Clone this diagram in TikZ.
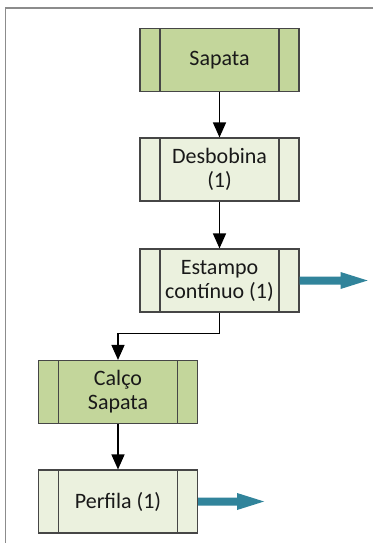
\documentclass[tikz,border=0pt]{standalone}
\usepackage{fontspec}
\setmainfont{Carlito}
\usetikzlibrary{arrows.meta,calc}
\definecolor{procdark}{RGB}{195,214,155}
\definecolor{proclight}{RGB}{235,241,222}
\definecolor{procedge}{RGB}{70,70,70}
\definecolor{outflow}{RGB}{49,132,155}
\definecolor{framegray}{RGB}{140,140,140}
\tikzset{
  procbox/.style={
    rectangle, draw=procedge, line width=1.1pt,
    minimum width=159pt, minimum height=63pt, inner sep=0pt,
    align=center, font=\fontsize{22}{24}\selectfont, text=black!90,
    path picture={
      \draw[procedge, line width=1.1pt]
        ([xshift=20pt]path picture bounding box.north west) --
        ([xshift=20pt]path picture bounding box.south west)
        ([xshift=-20pt]path picture bounding box.north east) --
        ([xshift=-20pt]path picture bounding box.south east);
    }},
  darkproc/.style={procbox, fill=procdark},
  lightproc/.style={procbox, fill=proclight},
  flow/.style={draw=black, line width=1.3pt, -{Triangle[width=13pt,length=15pt]}},
}
% block arrow leaving a node to the right
\newcommand{\outarrow}[2]{%
  \fill[outflow] ($(#1.east)+(0,4pt)$) -- ++(#2-27pt,0) -- ++(0,4.5pt)
    -- ++(27pt,-8.5pt) -- ++(-27pt,-8.5pt) -- ++(0,4.5pt)
    -- ($(#1.east)+(0,-4pt)$) -- cycle;}
\begin{document}
\begin{tikzpicture}[x=1pt,y=-1pt]
\useasboundingbox (0,0) rectangle (373,543);
\fill[white] (0,0) rectangle (373,543);
% page frame
\draw[framegray, line width=1.2pt] (373,8) -- (5.5,8) -- (5.5,543);

\node[darkproc]  (sapata) at (219.5,60)    {Sapata};
\node[lightproc] (desb)   at (219.5,169.5) {Desbobina\\(1)};
\node[lightproc] (estamp) at (219.5,280.5) {Estampo\\contínuo (1)};
\node[darkproc]  (calco)  at (118,392)     {Calço\\Sapata};
\node[lightproc] (perf)   at (118,501.5)   {Perfila (1)};

\draw[flow] (sapata) -- (desb);
\draw[flow] (desb) -- (estamp);
\draw[flow] (estamp.south) -- ++(0,21) -| (calco.north);
\draw[flow] (calco) -- (perf);

\outarrow{estamp}{68pt}
\outarrow{perf}{66pt}
\end{tikzpicture}
\end{document}
